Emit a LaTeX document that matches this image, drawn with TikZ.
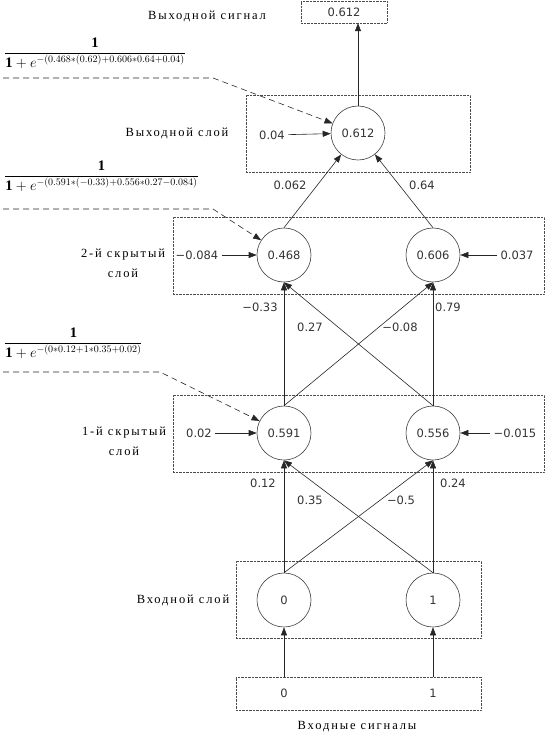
\documentclass[tikz,border=0pt]{standalone}
\usepackage{amsmath}
\usepackage{fontspec}
\setmainfont{Liberation Serif}
\newfontfamily\numfont{DejaVu Sans}
\newfontfamily\labfont[LetterSpace=15]{Liberation Serif}
\usetikzlibrary{positioning, arrows.meta}

\begin{document}
\begin{tikzpicture}[
  x=1pt, y=-1pt,
  every node/.style={font=\numfont\fontsize{11.5}{13}\selectfont, text=black!80},
  neuron/.style={circle, draw=black!75, line width=0.6pt, minimum size=54pt, inner sep=0pt},
  layerbox/.style={rectangle, draw=black!70, densely dotted, inner sep=0pt},
  lab/.style={font=\labfont\fontsize{12.5}{20}\selectfont, align=center, text=black},
  frac/.style={font=\fontsize{14.5}{16}\selectfont, inner sep=0pt, anchor=base west, text=black},
  arr/.style={-{Triangle[length=8pt, width=6pt]}, black!85, line width=0.6pt},
  fline/.style={arr, dash pattern=on 6pt off 4pt}
]
\useasboundingbox (0,0) rectangle (547,742);
% ── Output ─────────────────────────────────────
\node[layerbox, minimum width=86pt, minimum height=22pt] (outsig) at (344,12) {0.612};
\node[lab] at (207,16) {Выходной сигнал};
\node[layerbox, minimum width=224pt, minimum height=77pt] (Lout) at (358,133.5) {};
\node[neuron] (out) at (358,133) {0.612};
\node (bout) at (272,135) {0.04};
\node[lab] at (177,133) {Выходной слой};
% ── Hidden layer 2 ─────────────────────────────
\node[layerbox, minimum width=371pt, minimum height=77pt] (L2) at (358.5,255.5) {};
\node[neuron] (h2a) at (284,255) {0.468};
\node[neuron] (h2b) at (433,255) {0.606};
\node (b2a) at (197,255) {−0.084};
\node (b2b) at (517,255) {0.037};
\node[lab] at (123,263) {2-й скрытый\\слой};
% ── Hidden layer 1 ─────────────────────────────
\node[layerbox, minimum width=371pt, minimum height=77pt] (L1) at (358.5,433.5) {};
\node[neuron] (h1a) at (284,433) {0.591};
\node[neuron] (h1b) at (433,433) {0.556};
\node (b1a) at (199,433) {0.02};
\node (b1b) at (515,433) {−0.015};
\node[lab] at (124,441) {1-й скрытый\\слой};
% ── Input layer ────────────────────────────────
\node[layerbox, minimum width=245pt, minimum height=77pt] (Lin) at (358.5,599.5) {};
\node[neuron] (in0) at (284,600) {0};
\node[neuron] (in1) at (433,600) {1};
\node[lab] at (183,600) {Входной слой};
\node[layerbox, minimum width=245pt, minimum height=33pt] (sigin) at (358.5,693.5) {};
\node (x0) at (284,693) {0};
\node (x1) at (433,693) {1};
\node[lab] at (357,727) {Входные сигналы};
% ── Weights ────────────────────────────────────
\node (w12) at (290,185) {0.062};
\node (w22) at (422,185) {0.64};
\node (v11) at (260,307) {−0.33};
\node (v22) at (448,307) {0.79};
\node (v21) at (310,327) {0.27};
\node (v12) at (400,327) {−0.08};
\node (u11) at (263,483) {0.12};
\node (u22) at (453,483) {0.24};
\node (u21) at (310,500) {0.35};
\node (u12) at (401,500) {−0.5};
% ── Connectors ─────────────────────────────────
\draw[arr] (x0 |- sigin.north) -- (in0);
\draw[arr] (x1 |- sigin.north) -- (in1);
\foreach \s in {in0,in1}
  \foreach \t in {h1a,h1b}
    \draw[arr] (\s.north) -- (\t.south);
\foreach \s in {h1a,h1b}
  \foreach \t in {h2a,h2b}
    \draw[arr] (\s.north) -- (\t.south);
\draw[arr] (h2a.north) -- (out);
\draw[arr] (h2b.north) -- (out);
\draw[arr] (out.north) -- (out.north |- outsig.south);
\draw[arr] (bout) -- (out);
\draw[arr] (b2a) -- (h2a);
\draw[arr] (b2b) -- (h2b);
\draw[arr] (b1a) -- (h1a);
\draw[arr] (b1b) -- (h1b);
% ── Formulas ───────────────────────────────────
\node[frac] (f1) at (4,57) {$\dfrac{\mathbf{1}}{\mathbf{1}+e^{-(0.468*(0.62)+0.606*0.64+0.04)}}$};
\node[frac] (f2) at (4,180) {$\dfrac{\mathbf{1}}{\mathbf{1}+e^{-(0.591*(-0.33)+0.556*0.27-0.084)}}$};
\node[frac] (f3) at (4,347) {$\dfrac{\mathbf{1}}{\mathbf{1}+e^{-(0*0.12+1*0.35+0.02)}}$};
\coordinate (f1s) at (3,78);  \coordinate (f1k) at (213,78);
\coordinate (f2s) at (3,209); \coordinate (f2k) at (213,209);
\coordinate (f3s) at (3,372); \coordinate (f3k) at (160,372);
\draw[fline] (f1s) -- (f1k) -- (out);
\draw[fline] (f2s) -- (f2k) -- (h2a);
\draw[fline] (f3s) -- (f3k) -- (h1a);
\end{tikzpicture}
\end{document}
